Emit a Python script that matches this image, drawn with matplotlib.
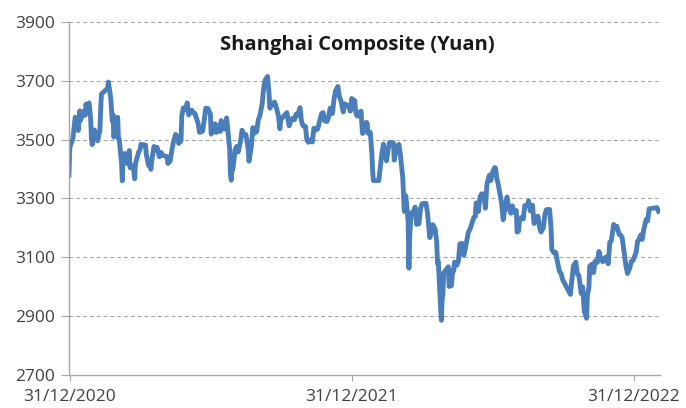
import matplotlib
matplotlib.use("Agg")
import matplotlib.pyplot as plt
import matplotlib.dates as mdates
import pandas as pd

# Shanghai Composite closes (roughly 2-3 points a week)
dates_2021 = [
    "2020-12-30", "2020-12-31",
    "2021-01-04", "2021-01-05", "2021-01-07", "2021-01-08", "2021-01-11", "2021-01-13", "2021-01-14",
    "2021-01-18", "2021-01-20", "2021-01-21", "2021-01-22", "2021-01-25", "2021-01-27", "2021-01-28",
    "2021-01-29", "2021-02-01", "2021-02-03", "2021-02-05", "2021-02-08", "2021-02-09", "2021-02-10",
    "2021-02-18", "2021-02-19", "2021-02-22", "2021-02-24", "2021-02-25", "2021-02-26", "2021-03-01",
    "2021-03-03", "2021-03-04", "2021-03-05", "2021-03-08", "2021-03-09", "2021-03-10", "2021-03-12",
    "2021-03-15", "2021-03-17", "2021-03-18", "2021-03-19", "2021-03-23", "2021-03-25", "2021-03-26",
    "2021-03-30", "2021-04-01", "2021-04-02", "2021-04-06", "2021-04-08", "2021-04-09", "2021-04-12",
    "2021-04-14", "2021-04-15", "2021-04-16", "2021-04-19", "2021-04-21", "2021-04-22", "2021-04-23",
    "2021-04-26", "2021-04-28", "2021-04-30", "2021-05-06", "2021-05-07", "2021-05-10", "2021-05-12",
    "2021-05-14", "2021-05-17", "2021-05-19", "2021-05-20", "2021-05-21", "2021-05-24", "2021-05-25",
    "2021-05-27", "2021-05-28", "2021-05-31", "2021-06-01", "2021-06-03", "2021-06-04", "2021-06-07",
    "2021-06-09", "2021-06-11", "2021-06-15", "2021-06-17", "2021-06-18", "2021-06-21", "2021-06-23",
    "2021-06-25", "2021-06-28", "2021-06-30", "2021-07-01", "2021-07-02", "2021-07-05", "2021-07-07",
    "2021-07-08", "2021-07-09", "2021-07-12", "2021-07-14", "2021-07-15", "2021-07-16", "2021-07-20",
    "2021-07-22", "2021-07-23", "2021-07-26", "2021-07-27", "2021-07-28", "2021-07-29", "2021-07-30",
    "2021-08-02", "2021-08-04", "2021-08-06", "2021-08-09", "2021-08-11", "2021-08-13", "2021-08-16",
    "2021-08-18", "2021-08-19", "2021-08-20", "2021-08-23", "2021-08-25", "2021-08-27", "2021-08-30",
    "2021-09-01", "2021-09-03", "2021-09-06", "2021-09-08", "2021-09-10", "2021-09-13", "2021-09-15",
    "2021-09-16", "2021-09-17", "2021-09-22", "2021-09-24", "2021-09-27", "2021-09-29", "2021-09-30",
    "2021-10-08", "2021-10-11", "2021-10-13", "2021-10-15", "2021-10-18", "2021-10-20", "2021-10-22",
    "2021-10-25", "2021-10-27", "2021-10-29", "2021-11-01", "2021-11-03", "2021-11-05", "2021-11-08",
    "2021-11-10", "2021-11-12", "2021-11-15", "2021-11-17", "2021-11-19", "2021-11-22", "2021-11-24",
    "2021-11-26", "2021-11-29", "2021-12-01", "2021-12-03", "2021-12-06", "2021-12-08", "2021-12-10",
    "2021-12-13", "2021-12-15", "2021-12-17", "2021-12-20", "2021-12-22", "2021-12-24", "2021-12-27",
    "2021-12-29", "2021-12-31",
]
values_2021 = [
    3380, 3473,
    3503, 3528, 3576, 3570, 3531, 3598, 3566,
    3596, 3583, 3621, 3606, 3625, 3573, 3505,
    3483, 3533, 3517, 3496, 3532, 3603, 3655,
    3675, 3696, 3642, 3564, 3585, 3509, 3551,
    3576, 3503, 3502, 3421, 3360, 3436, 3453,
    3419, 3446, 3463, 3405, 3411, 3367, 3418,
    3457, 3466, 3484, 3482, 3482, 3451, 3412,
    3416, 3399, 3427, 3477, 3473, 3466, 3474,
    3442, 3457, 3447, 3442, 3419, 3428, 3462,
    3490, 3518, 3510, 3507, 3487, 3497, 3581,
    3608, 3600, 3615, 3625, 3584, 3592, 3600,
    3591, 3589, 3556, 3525, 3525, 3529, 3566,
    3607, 3606, 3591, 3588, 3519, 3530, 3554,
    3525, 3525, 3548, 3528, 3565, 3539, 3536,
    3574, 3550, 3467, 3381, 3362, 3411, 3397,
    3465, 3477, 3458, 3494, 3532, 3517, 3517,
    3485, 3465, 3427, 3477, 3541, 3522, 3528,
    3567, 3581, 3621, 3676, 3703, 3715, 3656,
    3607, 3613, 3628, 3613, 3582, 3537, 3568,
    3592, 3547, 3562, 3572, 3568, 3587, 3582,
    3609, 3562, 3547, 3545, 3498, 3491, 3499,
    3492, 3539, 3533, 3537, 3560, 3589, 3592,
    3564, 3562, 3577, 3607, 3589, 3637, 3666,
    3681, 3647, 3632, 3594, 3622, 3618, 3615,
    3597, 3640,
]

dates_2022 = [
    "2022-01-04", "2022-01-05", "2022-01-06", "2022-01-07", "2022-01-10", "2022-01-12", "2022-01-13",
    "2022-01-14", "2022-01-17", "2022-01-19", "2022-01-20", "2022-01-21", "2022-01-24", "2022-01-26",
    "2022-01-27", "2022-01-28", "2022-02-04", "2022-02-07", "2022-02-08", "2022-02-10", "2022-02-11",
    "2022-02-14", "2022-02-16", "2022-02-18", "2022-02-21", "2022-02-23", "2022-02-24", "2022-02-25",
    "2022-02-28", "2022-03-02", "2022-03-04", "2022-03-07", "2022-03-09", "2022-03-10", "2022-03-11",
    "2022-03-14", "2022-03-15", "2022-03-16", "2022-03-17", "2022-03-18", "2022-03-21", "2022-03-23",
    "2022-03-25", "2022-03-28", "2022-03-30", "2022-04-01", "2022-04-06", "2022-04-08", "2022-04-11",
    "2022-04-13", "2022-04-15", "2022-04-18", "2022-04-20", "2022-04-21", "2022-04-22", "2022-04-25",
    "2022-04-26", "2022-04-27", "2022-04-28", "2022-04-29", "2022-05-05", "2022-05-06", "2022-05-09",
    "2022-05-10", "2022-05-11", "2022-05-12", "2022-05-13", "2022-05-16", "2022-05-18", "2022-05-20",
    "2022-05-23", "2022-05-25", "2022-05-27", "2022-05-31", "2022-06-02", "2022-06-07", "2022-06-09",
    "2022-06-10", "2022-06-13", "2022-06-15", "2022-06-17", "2022-06-20", "2022-06-22", "2022-06-24",
    "2022-06-27", "2022-06-29", "2022-07-01", "2022-07-04", "2022-07-05", "2022-07-07", "2022-07-08",
    "2022-07-11", "2022-07-13", "2022-07-15", "2022-07-18", "2022-07-20", "2022-07-22", "2022-07-25",
    "2022-07-27", "2022-07-29", "2022-08-01", "2022-08-02", "2022-08-04", "2022-08-05", "2022-08-08",
    "2022-08-10", "2022-08-12", "2022-08-15", "2022-08-17", "2022-08-19", "2022-08-22", "2022-08-24",
    "2022-08-26", "2022-08-29", "2022-08-31", "2022-09-02", "2022-09-05", "2022-09-07", "2022-09-09",
    "2022-09-13", "2022-09-15", "2022-09-16", "2022-09-19", "2022-09-21", "2022-09-23", "2022-09-26",
    "2022-09-28", "2022-09-30", "2022-10-10", "2022-10-12", "2022-10-14", "2022-10-17", "2022-10-19",
    "2022-10-21", "2022-10-24", "2022-10-26", "2022-10-28", "2022-10-31", "2022-11-01", "2022-11-03",
    "2022-11-04", "2022-11-07", "2022-11-09", "2022-11-11", "2022-11-14", "2022-11-16", "2022-11-18",
    "2022-11-21", "2022-11-23", "2022-11-25", "2022-11-28", "2022-11-30", "2022-12-02", "2022-12-05",
    "2022-12-07", "2022-12-09", "2022-12-12", "2022-12-14", "2022-12-16", "2022-12-19", "2022-12-21",
    "2022-12-23", "2022-12-26", "2022-12-28", "2022-12-30",
    "2023-01-03", "2023-01-05", "2023-01-06", "2023-01-09", "2023-01-11", "2023-01-13", "2023-01-16",
    "2023-01-18", "2023-01-20", "2023-01-30", "2023-02-01",
]
values_2022 = [
    3632, 3595, 3586, 3580, 3593, 3597, 3555,
    3521, 3541, 3559, 3555, 3522, 3525, 3455,
    3394, 3361, 3361, 3429, 3453, 3485, 3462,
    3428, 3465, 3491, 3490, 3489, 3430, 3451,
    3462, 3484, 3447, 3372, 3256, 3296, 3309,
    3223, 3063, 3170, 3215, 3251, 3254, 3271,
    3212, 3214, 3266, 3282, 3284, 3252, 3167,
    3186, 3211, 3195, 3151, 3079, 3087, 2929,
    2886, 2958, 2975, 3047, 3068, 3001, 3004,
    3036, 3058, 3054, 3084, 3073, 3086, 3146,
    3147, 3107, 3130, 3186, 3195, 3236, 3239,
    3285, 3256, 3305, 3316, 3315, 3267, 3349,
    3379, 3361, 3388, 3405, 3404, 3364, 3356,
    3313, 3284, 3228, 3278, 3305, 3269, 3250,
    3275, 3253, 3259, 3186, 3189, 3227, 3236,
    3230, 3276, 3276, 3292, 3258, 3277, 3215,
    3236, 3240, 3202, 3186, 3200, 3246, 3262,
    3263, 3199, 3126, 3115, 3117, 3088, 3051,
    3045, 3024, 2974, 3025, 3071, 3084, 3044,
    3038, 2977, 2999, 2916, 2893, 2970, 2998,
    3070, 3077, 3048, 3087, 3083, 3120, 3097,
    3085, 3096, 3101, 3078, 3151, 3156, 3212,
    3199, 3206, 3179, 3176, 3167, 3107, 3069,
    3045, 3065, 3087, 3089,
    3116, 3155, 3157, 3176, 3161, 3195, 3228,
    3224, 3265, 3269, 3257,
]

tick_dates = ["2020-12-31", "2021-12-31", "2022-12-31"]
y_ticks = [2700, 2900, 3100, 3300, 3500, 3700, 3900]

dates = pd.to_datetime(dates_2021 + dates_2022)
values = values_2021 + values_2022

plt.rcParams['font.family'] = ['Open Sans', 'DejaVu Sans']
grey = '#404040'
axis_grey = '#a6a6a6'

fig = plt.figure(figsize=(6.86, 4.08), dpi=100)
ax = fig.add_axes([69/686, 1 - 375/408, (660 - 69)/686, (375 - 22)/408])

ax.plot(dates, values, color='#4a7ebb', linewidth=3.5, solid_joinstyle='round')

ax.set_ylim(2700, 3900)
ax.set_yticks(y_ticks)
ax.set_xlim(pd.Timestamp("2020-12-30"), pd.Timestamp("2023-02-03"))
ax.set_xticks(pd.to_datetime(tick_dates))
ax.xaxis.set_major_formatter(mdates.DateFormatter('%d/%m/%Y'))

ax.yaxis.grid(True, linestyle=(0, (4, 3)), color='#a0a0a0', linewidth=0.7)
ax.set_axisbelow(True)
for s in ['top', 'right']:
    ax.spines[s].set_visible(False)
for s in ['left', 'bottom']:
    ax.spines[s].set_color(axis_grey)
    ax.spines[s].set_linewidth(1.0)

ax.tick_params(axis='y', length=6, width=0.8, color=axis_grey, labelsize=12.5, labelcolor=grey, pad=4)
ax.tick_params(axis='x', length=4, width=0.8, color=axis_grey, labelsize=12.5, labelcolor=grey, pad=6)

ax.text(0.487, 0.935, "Shanghai Composite (Yuan)", transform=ax.transAxes,
        ha='center', va='center', fontsize=14.5, fontweight='bold', color='#1a1a1a')

fig.savefig("out.png", dpi=100)
